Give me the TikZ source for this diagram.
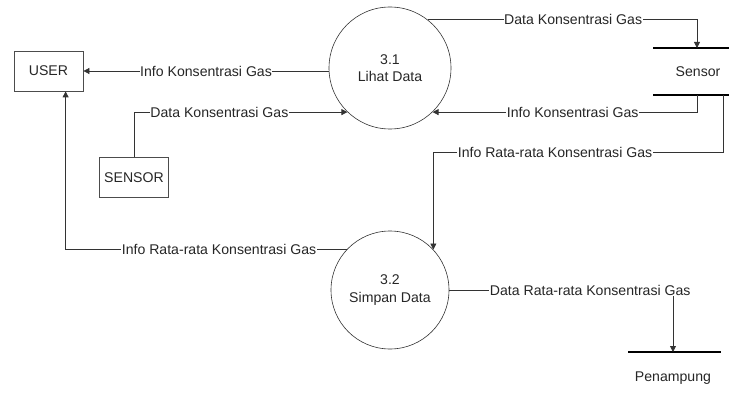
\documentclass[tikz,border=0pt]{standalone}
\usepackage{fontspec}
\setmainfont{Liberation Sans}
\usetikzlibrary{arrows.meta}
\tikzset{
  flow/.style={draw=black!80, line width=0.8pt, -{Triangle[length=6pt,width=6pt]}},
  proc/.style={circle, draw=black!80, line width=0.6pt, minimum size=122pt, inner sep=0pt, align=center},
  ent/.style={rectangle, draw=black!70, line width=0.8pt, minimum width=69pt, minimum height=40pt},
  lbl/.style={fill=white, inner sep=0.5pt},
  store/.style={line width=2.8pt}
}
\begin{document}
\begin{tikzpicture}[x=1pt, y=-1pt, font=\fontsize{14.1}{17.5}\selectfont, text=black!85]
  \useasboundingbox (0,0) rectangle (729,396);
  % external entities
  \node[ent] (user) at (48.5,71) {USER};
  \node[ent] (sensor) at (134,177.5) {SENSOR};
  % processes
  \node[proc] (p31) at (390,68) {3.1\\Lihat Data};
  \node[proc, minimum size=118pt] (p32) at (390,290) {3.2\\Simpan Data};
  % data stores
  \draw[store] (653,48) -- (729,48);
  \draw[store] (653,95) -- (729,95);
  \node (sens) at (698,71.5) {Sensor};
  \coordinate (st1) at (697,48);
  \coordinate (st2) at (697,95);
  \coordinate (st3) at (723,95);
  \draw[store] (628,352) -- (721,352);
  \node (pen) at (673,378) {Penampung};
  \coordinate (pt1) at (673,352);
  % flows
  \draw[flow] (user.east -| p31.west) -- node[lbl] {Info Konsentrasi Gas} (user.east);
  \draw[flow] (sensor.north) |- node[lbl, pos=0.7] {Data Konsentrasi Gas} (p31.226);
  \draw[flow] (p31.52) -| node[lbl, pos=0.27] {Data Konsentrasi Gas} (st1);
  \draw[flow] (st2) |- node[lbl, pos=0.735] {Info Konsentrasi Gas} (p31.-46);
  \draw[flow] (st3) -- ++(0,57) -| node[lbl, pos=0.29] {Info Rata-rata Konsentrasi Gas} (p32.43);
  \draw[flow] (p32.137) -| node[lbl, pos=0.227] {Info Rata-rata Konsentrasi Gas} (user.-50.5);
  \draw[flow] (p32.east) -| node[lbl, pos=0.315] {Data Rata-rata Konsentrasi Gas} (pt1);
\end{tikzpicture}
\end{document}
